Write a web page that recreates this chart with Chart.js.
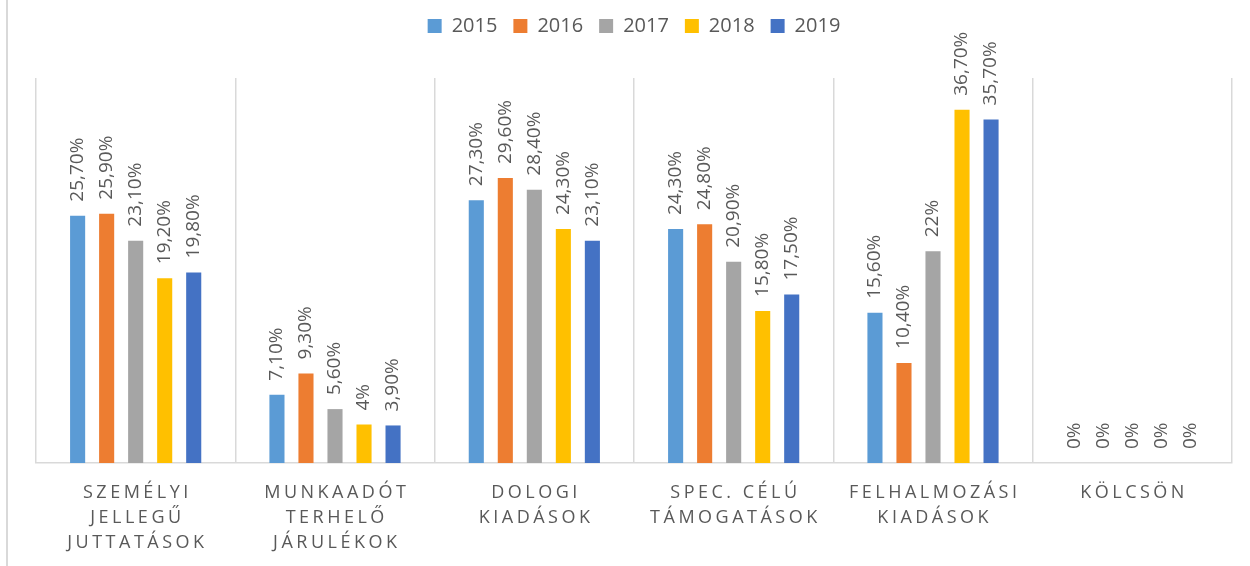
<!DOCTYPE html>
<html>
<head>
<meta charset="utf-8">
<script src="https://cdn.jsdelivr.net/npm/chart.js@4"></script>
<style>
  body { margin: 0; background: #fff; }
  #wrap { position: relative; width: 1250px; height: 566px; }
  #edge { position: absolute; left: 6px; top: 0; width: 2px; height: 566px; background: #d9d9d9; }
</style>
</head>
<body>
<div id="wrap">
  <canvas id="myChart" width="1250" height="566"></canvas>
  <div id="edge"></div>
</div>
<script>
// kategoriak (tobb soros cimkek)
const kategoriak = [
  ['SZEMÉLYI', 'JELLEGŰ', 'JUTTATÁSOK'],
  ['MUNKAADÓT', 'TERHELŐ', 'JÁRULÉKOK'],
  ['DOLOGI', 'KIADÁSOK'],
  ['SPEC. CÉLÚ', 'TÁMOGATÁSOK'],
  ['FELHALMOZÁSI', 'KIADÁSOK'],
  ['KÖLCSÖN']
];
const evek = ['2015', '2016', '2017', '2018', '2019'];

const s2015 = [25.7, 7.1, 27.3, 24.3, 15.6, 0];
const s2016 = [25.9, 9.3, 29.6, 24.8, 10.4, 0];
const s2017 = [23.1, 5.6, 28.4, 20.9, 22, 0];
const s2018 = [19.2, 4, 24.3, 15.8, 36.7, 0];
const s2019 = [19.8, 3.9, 23.1, 17.5, 35.7, 0];

const szinek = ['#5B9BD5', '#ED7D31', '#A5A5A5', '#FFC000', '#4472C4'];
const FONT = '"Open Sans", "Liberation Sans", sans-serif';
const SZURKE = '#595959';

function fmt(v) {
  if (Number.isInteger(v)) return v + '%';
  return v.toFixed(2).replace('.', ',') + '%';
}

// legenda alatt helyet hagyunk
const legendaHely = {
  id: 'legendaHely',
  afterInit(chart) {
    const lg = chart.legend;
    const eredeti = lg.fit;
    lg.fit = function () {
      eredeti.call(lg);
      lg.height += 32;
    };
  }
};

// ertek cimkek a oszlopok folott, elforgatva
const ertekCimkek = {
  id: 'ertekCimkek',
  afterDatasetsDraw(chart) {
    const c = chart.ctx;
    c.save();
    c.font = '19px ' + FONT;
    c.fillStyle = SZURKE;
    c.textAlign = 'left';
    c.textBaseline = 'middle';
    chart.data.datasets.forEach((ds, i) => {
      const meta = chart.getDatasetMeta(i);
      meta.data.forEach((el, j) => {
        c.save();
        c.translate(el.x, el.y - 14);
        c.rotate(-Math.PI / 2);
        c.fillText(fmt(ds.data[j]), 0, 0);
        c.restore();
      });
    });
    c.restore();
  }
};

// x tengely cimkei betukozessel
const xCimkek = {
  id: 'xCimkek',
  afterDraw(chart) {
    const c = chart.ctx;
    const sc = chart.scales.x;
    c.save();
    c.font = '18px ' + FONT;
    c.fillStyle = SZURKE;
    c.textAlign = 'center';
    c.textBaseline = 'middle';
    const ls = 3.5;
    if ('letterSpacing' in c) c.letterSpacing = ls + 'px';
    kategoriak.forEach((sorok, i) => {
      const x = sc.getPixelForValue(i);
      sorok.forEach((s, k) => {
        c.fillText(s, x + ls / 2, chart.chartArea.bottom + 30 + k * 25);
      });
    });
    c.restore();
  }
};

const ctx = document.getElementById('myChart');

new Chart(ctx, {
  type: 'bar',
  data: {
    labels: kategoriak.map(k => k.join(' ')),
    datasets: evek.map((ev, i) => ({
      label: ev,
      data: [s2015, s2016, s2017, s2018, s2019][i],
      backgroundColor: szinek[i],
      borderWidth: 0,
      categoryPercentage: 0.728,
      barPercentage: 0.52
    }))
  },
  options: {
    responsive: false,
    animation: false,
    devicePixelRatio: 1,
    layout: {
      padding: { left: 36, right: 18, top: 0, bottom: 103 }
    },
    plugins: {
      legend: {
        position: 'top',
        labels: {
          color: SZURKE,
          font: { family: FONT, size: 20 },
          boxWidth: 14,
          boxHeight: 14,
          padding: 16
        }
      },
      tooltip: { enabled: false }
    },
    scales: {
      x: {
        ticks: { display: false },
        grid: { color: '#d9d9d9', lineWidth: 1.5, drawTicks: false, offset: true },
        border: { color: '#d9d9d9', width: 1.5 }
      },
      y: {
        display: false,
        min: 0,
        max: 40
      }
    }
  },
  plugins: [legendaHely, ertekCimkek, xCimkek]
});
</script>
</body>
</html>
